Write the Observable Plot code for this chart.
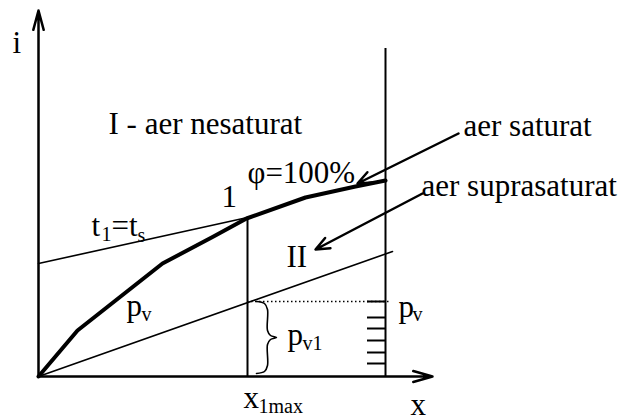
<!DOCTYPE html>
<html>
<head>
<meta charset="utf-8">
<script src="https://cdn.jsdelivr.net/npm/d3@7"></script>
<script src="https://cdn.jsdelivr.net/npm/@observablehq/plot@0.6"></script>
<style>
  html, body { margin: 0; padding: 0; background: #fff; }
</style>
</head>
<body>
<div id="chart"></div>
<script>
// Diagram data (x = moisture content, i = enthalpy, arbitrary units)
const satX = [0, 39, 124, 175, 208, 267, 317, 347];     // saturation curve φ=100%
const satI = [0, 46, 113, 140, 158, 179, 190, 196];
const t1X = [0, 209];                                    // isotherm t1 = ts
const t1I = [113, 159];
const pvX = [0, 354];                                    // partial vapour pressure line
const pvI = [0, 125];
const x1max = 209;
const x1maxTop = 159;
const xRight = 347;
const xRightTop = 328;
const pvLevel = 75;
const pvDotEnd = 352;
const hatchI = [75, 59, 48, 36, 24, 13];
const hatchX0 = 329;
const axisXEnd = 394;
const axisYEnd = 366;
const braceX = [218, 226, 229, 229, 232, 238, 232, 229, 229, 226, 218];
const braceI = [75, 73, 67, 46, 41, 39, 37, 32, 11, 5, 3];
const pointerX1 = [420, 384];
const pointerI1 = [243, 183];
const pointerX2 = [319, 277];
const pointerI2 = [193, 127];

const mainText = ["i", "I - aer nesaturat", "φ=100%", "1", "aer saturat", "aer suprasaturat", "II", "t", "=t", "p", "p", "p", "x", "x"];
const mainX =    [-26, 70, 209, 183, 425, 383, 248, 53, 73, 88, 249, 360, 205, 372];
const mainI =    [324, 243, 194, 170, 241, 181, 110, 141, 141, 61, 32, 60, -31, -38];
const subText = ["1", "s", "v", "v1", "v", "1max"];
const subX =    [63, 99, 103, 264, 374, 220];
const subI =    [136, 135, 56, 27, 56, -36];

const sat = satX.map((x, k) => ({x, i: satI[k]}));
const t1 = t1X.map((x, k) => ({x, i: t1I[k]}));
const pv = pvX.map((x, k) => ({x, i: pvI[k]}));
const brace = braceX.map((x, k) => ({x, i: braceI[k]}));
const hatches = hatchI.map(i => ({x1: hatchX0, x2: xRight, i}));
const pointers = pointerX1.map((x, k) => ({x1: x, i1: pointerI1[k], x2: pointerX2[k], i2: pointerI2[k]}));
const mains = mainText.map((t, k) => ({t, x: mainX[k], i: mainI[k]}));
const subs = subText.map((t, k) => ({t, x: subX[k], i: subI[k]}));

const svg = Plot.plot({
  width: 624,
  height: 416,
  x: {domain: [0, 347], range: [38, 385], axis: null},
  y: {domain: [0, 328], range: [376, 48], axis: null},
  style: {fontFamily: "'Liberation Serif', 'Times New Roman', serif", background: "#fff", color: "#000"},
  marks: [
    // axes with arrows
    Plot.arrow([{x1: 0, y1: 0, x2: axisXEnd, y2: 0}], {x1: "x1", y1: "y1", x2: "x2", y2: "y2", stroke: "#000", strokeWidth: 2.5, headLength: 12, headAngle: 32}),
    Plot.arrow([{x1: 0, y1: 0, x2: 0, y2: axisYEnd}], {x1: "x1", y1: "y1", x2: "x2", y2: "y2", stroke: "#000", strokeWidth: 2.5, headLength: 12, headAngle: 30}),
    // vertical lines
    Plot.ruleX([x1max], {y1: 0, y2: x1maxTop, stroke: "#000", strokeWidth: 2}),
    Plot.ruleX([xRight], {y1: 0, y2: xRightTop, stroke: "#000", strokeWidth: 2}),
    // dotted pv level
    Plot.ruleY([pvLevel], {x1: x1max, x2: pvDotEnd, stroke: "#000", strokeWidth: 1.5, strokeDasharray: "1.5,2.5"}),
    // hatches
    Plot.ruleY(hatches, {y: "i", x1: "x1", x2: "x2", stroke: "#000", strokeWidth: 2}),
    // thin lines
    Plot.line(t1, {x: "x", y: "i", stroke: "#000", strokeWidth: 1.6}),
    Plot.line(pv, {x: "x", y: "i", stroke: "#000", strokeWidth: 1.6}),
    // saturation curve
    Plot.line(sat, {x: "x", y: "i", stroke: "#000", strokeWidth: 4, strokeLinejoin: "round"}),
    // brace
    Plot.line(brace, {x: "x", y: "i", stroke: "#000", strokeWidth: 1.6, curve: "catmull-rom"}),
    // pointer arrows
    Plot.arrow(pointers, {x1: "x1", y1: "i1", x2: "x2", y2: "i2", stroke: "#000", strokeWidth: 2.5, headLength: 9, headAngle: 45}),
    // labels
    Plot.text(mains, {x: "x", y: "i", text: "t", textAnchor: "start", fontSize: 31, fill: "#000"}),
    Plot.text(subs, {x: "x", y: "i", text: "t", textAnchor: "start", fontSize: 20, fill: "#000"})
  ]
});
svg.querySelectorAll("text").forEach(t => {
  if (t.getAttribute("transform")) t.setAttribute("y", "0");
  t.setAttribute("dy", "0");
});
document.getElementById("chart").appendChild(svg);
</script>
</body>
</html>
